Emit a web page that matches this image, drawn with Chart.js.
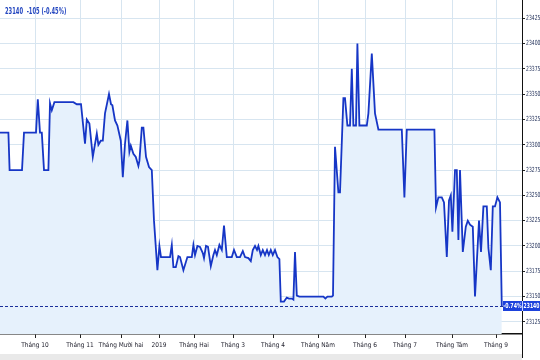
<!DOCTYPE html>
<html><head><meta charset="utf-8">
<script src="https://cdn.jsdelivr.net/npm/chart.js@4.4.1/dist/chart.umd.min.js"></script>
<style>html,body{margin:0;padding:0;background:#fff;overflow:hidden}canvas{display:block}</style>
</head><body>
<canvas id="c" width="540" height="360"></canvas>
<script>
// trading-day index (x) and closing price (y) at each turning point of the line
const tradingDay = [0,4.2,4.8,11,12,18,18.9,20,20.9,22,24.2,25,25.9,27.2,36.7,38.4,40.5,42.5,43.4,44.7,46.4,48.4,49.2,50.4,51.4,52.5,54.5,55.5,56.2,57.5,58.7,60.4,61.4,62.5,63.7,64.7,65.4,66.7,67.9,69.2,69.7,70.9,71.7,73,74.5,75.9,77,78.7,79.7,80.5,85,85.9,86.7,87.9,89.2,
90,91.7,93.7,95.9,96.7,97.5,98.7,100,101.4,102,103,104,105.4,106.7,107.5,108.4,109.7,110.9,112,113.4,115.9,117,118.4,120,121.4,122.5,124.2,125.4,126.4,127.5,128.5,129.2,130.4,131.4,132.5,133.5,134.4,135.4,136.4,137.5,138.7,139.7,140.4,142,143.4,144.5,145.9,146.7,147.5,148.4,149.7,161.7,162.7,163.7,165.9,
166.5,167.5,169.2,170,171.7,172.5,173.7,175,175.9,176.7,178,178.7,179.7,183.4,184.2,185.9,187.5,189.2,200.9,202.2,203.4,217.2,218,219.2,220.9,222,223.4,224.5,225.4,226.2,227.5,228.4,229.2,230,231.4,232.9,233.9,235,236.4,237.5,239.5,240.5,241.7,243.4,244.2,245.4,246.4,247.5,248.7,250,250.9];
const price = [23312,23312,23275,23275,23312,23312,23345,23312,23312,23275,23275,23341,23334,23342,23342,23340,23340,23301,23325,23321,23288,23311,23300,23304,23304,23331,23350,23340,23339,23324,23319,23304,23268,23301,23324,23293,23299,23291,23288,23279,23284,23317,23317,23288,23278,23275,23225,23176,23200,23189,23189,23201,23179,23179,23190,
23189,23176,23189,23189,23201,23191,23200,23199,23193,23188,23200,23199,23180,23191,23196,23191,23201,23196,23220,23189,23189,23196,23189,23189,23195,23189,23188,23185,23196,23200,23196,23200,23191,23196,23191,23196,23191,23196,23191,23196,23189,23187,23145,23145,23149,23148,23148,23147,23194,23151,23150,23150,23148,23150,23150,
23151,23298,23253,23253,23346,23346,23319,23319,23375,23319,23319,23400,23319,23319,23331,23390,23331,23315,23315,23248,23315,23315,23238,23248,23248,23243,23189,23245,23250,23214,23275,23275,23206,23275,23194,23219,23225,23221,23219,23150,23225,23194,23239,23239,23198,23176,23239,23239,23248,23243,23140];
const monthTickDays = [17.5,40,60.5,79.5,97,116.5,136.5,159,182.5,202.5,226,248];
const monthLabels = ["Tháng 10","Tháng 11","Tháng Mười hai","2019","Tháng Hai","Tháng 3","Tháng 4","Tháng Năm","Tháng 6","Tháng 7","Tháng Tám","Tháng 9"];
const yTickValues = [23125,23150,23175,23200,23225,23250,23275,23300,23325,23350,23375,23400,23425];
const lastPrice = 23140;
const headerText = "23140  -105 (-0.45%)";
const badgeChange = "-0.74%";
const badgePrice = "23140";

const NARROW = "'Liberation Sans Narrow','DejaVu Sans Condensed',sans-serif";

function squeezedText(ctx, text, x, y, sx, align) {
  ctx.save();
  ctx.translate(x, y);
  ctx.scale(sx, 1);
  ctx.textAlign = align;
  ctx.fillText(text, 0, 0);
  ctx.restore();
}

const decor = {
  id: 'decor',
  beforeDraw(chart) {
    const ctx = chart.ctx, a = chart.chartArea;
    ctx.save();
    ctx.fillStyle = '#ffffff';
    ctx.fillRect(0, 0, chart.width, chart.height);
    ctx.fillStyle = '#e9e9e9';
    ctx.fillRect(0, 354, a.right, chart.height - 354);
    ctx.restore();
  },
  afterDatasetsDraw(chart) {
    const ctx = chart.ctx, a = chart.chartArea, y = chart.scales.y;
    const py = Math.round(y.getPixelForValue(lastPrice)) - 0.5;
    ctx.save();
    ctx.strokeStyle = '#1a2f9a';
    ctx.lineWidth = 1;
    ctx.setLineDash([3, 2]);
    ctx.beginPath();
    ctx.moveTo(a.left, py);
    ctx.lineTo(a.right, py);
    ctx.stroke();
    ctx.restore();
  },
  afterDraw(chart) {
    const ctx = chart.ctx, a = chart.chartArea, y = chart.scales.y;
    ctx.save();
    // y-axis tick labels, taken from the scale's own ticks
    ctx.fillStyle = '#1b2a55';
    ctx.font = "7px " + NARROW;
    ctx.textBaseline = 'middle';
    y.ticks.forEach(t => {
      squeezedText(ctx, String(t.value), a.right + 4, y.getPixelForValue(t.value), 0.72, 'left');
    });
    const py = Math.round(y.getPixelForValue(lastPrice)) - 1;
    ctx.strokeStyle = '#111';
    ctx.lineWidth = 1;
    ctx.beginPath();
    ctx.moveTo(a.right + 0.5, a.bottom);
    ctx.lineTo(a.right + 0.5, 358);
    ctx.stroke();
    // badge
    ctx.fillStyle = '#1d42dc';
    ctx.fillRect(503, py - 5, chart.width - 503, 10);
    ctx.strokeStyle = '#c8d4ff';
    ctx.beginPath();
    ctx.moveTo(a.right + 0.5, py - 5);
    ctx.lineTo(a.right + 0.5, py + 5);
    ctx.stroke();
    ctx.fillStyle = '#ffffff';
    ctx.font = "bold 7px " + NARROW;
    squeezedText(ctx, badgeChange, 512.5, py + 0.5, 0.75, 'center');
    squeezedText(ctx, badgePrice, 531.5, py + 0.5, 0.72, 'center');
    // header
    ctx.fillStyle = '#2447c0';
    ctx.font = "bold 8px " + NARROW;
    squeezedText(ctx, headerText, 5, 12, 0.72, 'left');
    ctx.restore();
  }
};

new Chart(document.getElementById('c'), {
  type: 'line',
  data: {
    datasets: [{
      data: tradingDay.map((d, i) => ({ x: d, y: price[i] })),
      borderColor: '#1636c6',
      borderWidth: 1.8,
      backgroundColor: '#e6f1fc',
      fill: 'start',
      pointRadius: 0,
      tension: 0
    }]
  },
  options: {
    responsive: false,
    devicePixelRatio: 1,
    animation: false,
    layout: { padding: 0 },
    plugins: { legend: { display: false }, tooltip: { enabled: false } },
    scales: {
      x: {
        type: 'linear', min: 0, max: 261,
        afterBuildTicks: s => { s.ticks = monthTickDays.map(v => ({ value: v })); },
        afterFit: s => { s.height = 26; },
        ticks: {
          autoSkip: false, maxRotation: 0, minRotation: 0, padding: 3,
          callback: v => monthLabels[monthTickDays.indexOf(v)],
          font: { family: NARROW, size: 6.5 }, color: '#1d1d2a'
        },
        grid: { color: '#d7e5f0', lineWidth: 1, tickLength: 4, tickColor: '#222' },
        border: { color: '#111', width: 1.5 }
      },
      y: {
        position: 'right', min: 23113, max: 23443,
        afterBuildTicks: s => { s.ticks = yTickValues.map(v => ({ value: v })); },
        afterFit: s => { s.width = 18; },
        ticks: { display: false },
        grid: { color: '#d7e5f0', lineWidth: 1, tickLength: 3, tickColor: '#222', drawTicks: true },
        border: { color: '#111', width: 1 }
      }
    }
  },
  plugins: [decor]
});
</script>
</body></html>
